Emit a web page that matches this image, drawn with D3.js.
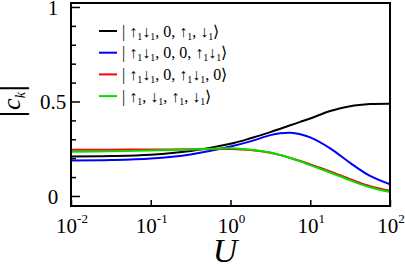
<!DOCTYPE html>
<html>
<head>
<script src="https://cdnjs.cloudflare.com/ajax/libs/d3/7.8.5/d3.min.js"></script>
<style>
  body { margin: 0; background: #fff; }
</style>
</head>
<body>
<div id="chart"></div>
<script>
const logU = [-2, -1.5, -1, -0.5, 0, 0.25, 0.5, 0.625, 0.75, 0.875, 1, 1.25, 1.5, 1.75, 2];
const black = [0.209, 0.211, 0.218, 0.238, 0.276, 0.305, 0.338, 0.356, 0.374, 0.392, 0.410, 0.450, 0.475, 0.486, 0.488];
const blue  = [0.188, 0.190, 0.198, 0.220, 0.262, 0.289, 0.322, 0.332, 0.335, 0.327, 0.310, 0.252, 0.175, 0.106, 0.062];
const red   = [0.244, 0.245, 0.246, 0.247, 0.248, 0.243, 0.229, 0.216, 0.201, 0.185, 0.167, 0.130, 0.089, 0.052, 0.028];
const green = [0.234, 0.236, 0.240, 0.246, 0.252, 0.245, 0.230, 0.217, 0.201, 0.183, 0.163, 0.124, 0.083, 0.046, 0.021];

const seriesNames = ["| ↑_1↓_1, 0, ↑_1, ↓_1⟩", "| ↑_1↓_1, 0, 0, ↑_1↓_1⟩", "| ↑_1↓_1, 0, ↑_1↓_1, 0⟩", "| ↑_1, ↓_1, ↑_1, ↓_1⟩"];
const seriesColors = ["#000000", "#0000ff", "#ff0000", "#00e000"];
const seriesValues = [black, blue, red, green];

const xTicks = [0.01, 0.1, 1, 10, 100];
const xTickExp = ["-2", "-1", "0", "1", "2"];
const yTicks = d3.range(0, 1.0001, 0.1).map(v => +v.toFixed(1));
const yLabelled = [0, 0.5, 1];

const serif = "'Liberation Serif', 'Times New Roman', Times, serif";
const width = 405, height = 264;
const plot = { left: 71, right: 390, top: 3, bottom: 206 };

const svg = d3.select("#chart").append("svg")
    .attr("width", width)
    .attr("height", height)
    .style("font-family", serif);

const xScale = d3.scaleLog().domain([0.01, 100]).range([plot.left, plot.right]);
const yScale = d3.scaleLinear().domain([-0.053, 1.021]).range([plot.bottom, plot.top]);

// y axis: ticks inside, labels only at 0, 0.5, 1
const yAxis = svg.append("g")
    .attr("transform", `translate(${plot.left},0)`)
    .call(d3.axisLeft(yScale).tickValues(yTicks).tickSizeOuter(0)
        .tickFormat(d => yLabelled.includes(d) ? d3.format("")(d) : ""));
yAxis.attr("font-family", null);
yAxis.select(".domain").remove();
yAxis.selectAll(".tick line")
    .attr("x2", d => yLabelled.includes(d) ? 9 : 5)
    .attr("stroke-width", 1.5);
yAxis.selectAll(".tick text")
    .attr("x", -18)
    .attr("dy", "0.34em")
    .attr("text-anchor", "middle")
    .attr("fill", "#000")
    .style("font-family", serif)
    .style("font-size", "21px");

// x axis: ticks inside at decades, labels 10^n
const xAxis = svg.append("g")
    .attr("transform", `translate(0,${plot.bottom})`)
    .call(d3.axisBottom(xScale).tickValues(xTicks).tickSizeOuter(0).tickFormat(""));
xAxis.attr("font-family", null);
xAxis.select(".domain").remove();
xAxis.selectAll(".tick line").attr("y2", -6).attr("stroke-width", 1.5);

xTicks.forEach((t, i) => {
    const lab = svg.append("text")
        .attr("x", xScale(t) + 1)
        .attr("y", 233)
        .attr("text-anchor", "middle")
        .style("font-size", "21px");
    lab.append("tspan").text("10");
    lab.append("tspan").attr("dy", -10).style("font-size", "13px").text(xTickExp[i]);
});

// curves
const line = d3.line()
    .x((d, i) => xScale(Math.pow(10, logU[i])))
    .y(d => yScale(d))
    .curve(d3.curveCatmullRom.alpha(0.5));

svg.append("g").selectAll("path")
    .data(seriesValues)
    .join("path")
    .attr("fill", "none")
    .attr("stroke", (d, i) => seriesColors[i])
    .attr("stroke-width", 2)
    .attr("d", line);

// frame
svg.append("rect")
    .attr("x", plot.left).attr("y", plot.top)
    .attr("width", plot.right - plot.left)
    .attr("height", plot.bottom - plot.top)
    .attr("fill", "none")
    .attr("stroke", "#000")
    .attr("stroke-width", 2);

// legend
const legend = svg.append("g");
seriesNames.forEach((name, i) => {
    const ly = 31 + i * 21.7;
    legend.append("line")
        .attr("x1", 99).attr("x2", 117)
        .attr("y1", ly).attr("y2", ly)
        .attr("stroke", seriesColors[i])
        .attr("stroke-width", 2);
    const t = legend.append("text")
        .attr("x", 122)
        .attr("y", ly + 5.5)
        .style("font-size", "16px");
    let shifted = false;
    name.split(/(_1)/).forEach(part => {
        if (part === "_1") {
            t.append("tspan").style("font-size", "10px").attr("dy", 3).text("1");
            shifted = true;
        } else if (part.length) {
            t.append("tspan").attr("dy", shifted ? -3 : 0).text(part);
            shifted = false;
        }
    });
});

// axis titles
const yTitle = svg.append("text")
    .attr("transform", "translate(20,101) rotate(-90)")
    .attr("text-anchor", "middle");
yTitle.append("tspan").style("font-size", "40px").text("|");
yTitle.append("tspan").style("font-size", "26px").style("font-style", "italic").text("c");
yTitle.append("tspan").style("font-size", "14px").style("font-style", "italic").attr("dy", 5).text("k");
yTitle.append("tspan").style("font-size", "40px").attr("dy", -5).text("|");

svg.append("text")
    .attr("x", 225)
    .attr("y", 262)
    .attr("text-anchor", "middle")
    .style("font-size", "34px")
    .style("font-style", "italic")
    .text("U");
</script>
</body>
</html>
